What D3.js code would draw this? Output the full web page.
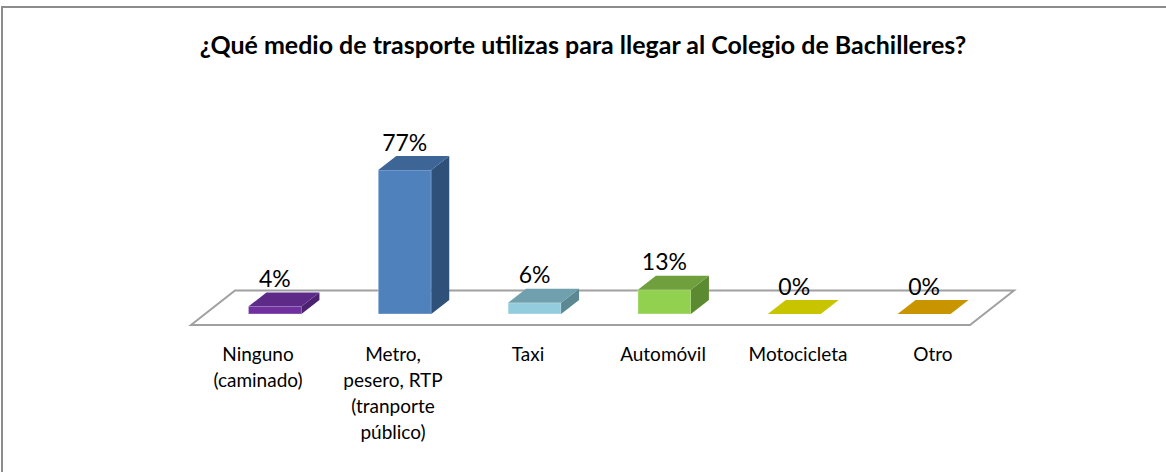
<!DOCTYPE html>
<html>
<head>
<meta charset="utf-8">
<script src="https://cdn.jsdelivr.net/npm/d3@7"></script>
<style>
  body { margin: 0; background: #fff; }
  svg { display: block; }
  text { font-family: Lato, "Open Sans", sans-serif; fill: #000; }
</style>
</head>
<body>
<div id="chart"></div>
<script>

var title = "¿Qué medio de trasporte utilizas para llegar al Colegio de Bachilleres?";

var categories = ["Ninguno (caminado)", "Metro, pesero, RTP (tranporte público)", "Taxi",
  "Automóvil", "Motocicleta", "Otro"];
var categoryLines = [["Ninguno", "(caminado)"], ["Metro,", "pesero, RTP", "(tranporte", "público)"],
  ["Taxi"], ["Automóvil"], ["Motocicleta"], ["Otro"]];
var values = [4, 77, 6, 13, 0, 0];
var valueLabels = ["4%", "77%", "6%", "13%", "0%", "0%"];

// front / top / side shades for each bar
var frontColors = ["#7030a0", "#4f81bd", "#93cddd", "#92d050", "#d4d000", "#d49e00"];
var topColors   = ["#5d2a87", "#3d6595", "#70a0ad", "#70a03d", "#c8c400", "#c89400"];
var sideColors  = ["#4c2270", "#2f5079", "#5c8893", "#5b8a31", "#a8a400", "#a87c00"];

function barChart3d() {

  var width = 1166,
    height = 472,
    floorFront = 325,
    floorBack = 290.5,
    floorShift = 44,
    barBase = 314,
    depthX = 18,
    depthY = 14,
    barWidth = 53,
    barShift = 19,
    xScale = d3.scaleBand().padding(0),
    labelScale = d3.scalePoint(),
    yScale = d3.scaleLinear();

  function chart(selection) {
    selection.each(function(data) {

      var svg = d3.select(this).append("svg")
        .attr("width", width)
        .attr("height", height);

      svg.append("rect")
        .attr("x", 2)
        .attr("y", 7)
        .attr("width", 1200)
        .attr("height", 500)
        .attr("fill", "#fff")
        .attr("stroke", "#8c8c8c")
        .attr("stroke-width", 2);

      var t = svg.append("text")
        .attr("x", 583)
        .attr("y", 54)
        .attr("text-anchor", "middle")
        .style("font-weight", "bold")
        .style("font-size", "20px")
        .text(title);
      var tw = t.node().getComputedTextLength();
      t.style("font-size", (20 * 767 / tw) + "px");

      xScale.domain(categories).range([191, 970]);
      labelScale.domain(categories).range([258, 933]);
      yScale.domain([0, 100]).range([barBase, barBase - 187]);

      var r = xScale.range();
      svg.append("polygon")
        .attr("points", [
          [r[0], floorFront], [r[0] + floorShift, floorBack],
          [r[1] + floorShift, floorBack], [r[1], floorFront]
        ].join(" "))
        .attr("fill", "#fff")
        .attr("stroke", "#a0a0a0")
        .attr("stroke-width", 2);

      // front x of each bar, pushed back to the middle of the floor
      function X0(i) {
        return xScale(categories[i]) + xScale.bandwidth() / 2 + barShift - barWidth / 2;
      }

      var bars = svg.selectAll(".bar")
        .data(data)
        .enter().append("g")
        .attr("class", "bar");

      bars.each(function(d, i) {
        var g = d3.select(this),
          x0 = X0(i),
          x1 = x0 + barWidth,
          yt = yScale(d);

        if (d > 0) {
          g.append("rect")
            .attr("x", x0)
            .attr("y", yt)
            .attr("width", barWidth)
            .attr("height", barBase - yt)
            .attr("fill", frontColors[i])
            .attr("stroke", "#ffffff")
            .attr("stroke-opacity", 0.35)
            .attr("stroke-width", 1);
          g.append("polygon")
            .attr("points", [[x1, yt], [x1 + depthX, yt - depthY],
              [x1 + depthX, barBase - depthY], [x1, barBase]].join(" "))
            .attr("fill", sideColors[i]);
        }
        g.append("polygon")
          .attr("points", [[x0, yt], [x0 + depthX, yt - depthY],
            [x1 + depthX, yt - depthY], [x1, yt]].join(" "))
          .attr("fill", topColors[i]);
      });

      svg.selectAll(".value")
        .data(data)
        .enter().append("text")
        .attr("class", "value")
        .attr("x", function(d, i) { return X0(i) + barWidth / 2; })
        .attr("y", function(d) { return yScale(d) - depthY - 5.5; })
        .attr("text-anchor", "middle")
        .style("font-size", "23px")
        .text(function(d, i) { return valueLabels[i]; });

      var cats = svg.selectAll(".cat")
        .data(categories)
        .enter().append("text")
        .attr("class", "cat")
        .attr("text-anchor", "middle")
        .style("font-size", "19px");

      cats.selectAll("tspan")
        .data(function(d, i) {
          return categoryLines[i].map(function(s) { return {cat: d, s: s}; });
        })
        .enter().append("tspan")
        .attr("x", function(d) { return labelScale(d.cat); })
        .attr("y", function(d, j) { return 361 + j * 26; })
        .text(function(d) { return d.s; });
    });
  }

  return chart;
}

d3.select("#chart").datum(values).call(barChart3d());

</script>
</body>
</html>
